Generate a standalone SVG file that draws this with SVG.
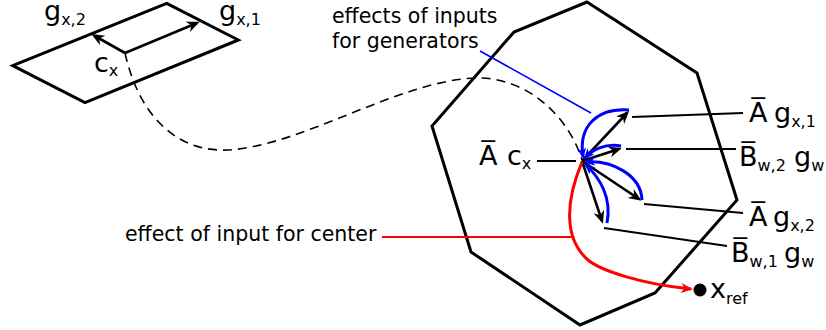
<svg xmlns="http://www.w3.org/2000/svg" width="826" height="330" viewBox="0 0 826 330">
<style>
.m{font-family:"DejaVu Sans","Liberation Sans",sans-serif;font-size:27px;fill:#000}
.s{font-size:16px}
.t{font-family:"DejaVu Sans","Liberation Sans",sans-serif;font-size:20.5px;fill:#000}
.shape{fill:none;stroke:#000;stroke-width:3;stroke-linejoin:miter}
.vec{fill:none;stroke:#000;stroke-width:2.6}
.gen{fill:none;stroke:#0000ff;stroke-width:3}
.lead{fill:none;stroke:#000;stroke-width:1.8}
</style>
<defs>
<marker id="ak" markerUnits="userSpaceOnUse" markerWidth="16" markerHeight="14" viewBox="-14 -7 16 14" refX="-3" refY="0" orient="auto">
<path d="M0,0 L-13,-5.5 L-9,0 L-13,5.5 Z" fill="#000"/>
</marker>
<marker id="ab" markerUnits="userSpaceOnUse" markerWidth="16" markerHeight="14" viewBox="-14 -7 16 14" refX="-2" refY="0" orient="auto">
<path d="M0,0 L-11,-4.5 L-8,0 L-11,4.5 Z" fill="#0000ff"/>
</marker>
<marker id="ar" markerUnits="userSpaceOnUse" markerWidth="16" markerHeight="14" viewBox="-14 -7 16 14" refX="-2" refY="0" orient="auto">
<path d="M0,0 L-12,-5 L-8.5,0 L-12,5 Z" fill="#ff0000"/>
</marker>
</defs>

<g id="parallelogram">
<polygon class="shape" points="166.7,3.3 238.3,40 85,102.7 12.7,65.7"/>
<text class="m" x="44" y="20">g<tspan class="s" dy="5">x,2</tspan></text>
<text class="m" x="219" y="20">g<tspan class="s" dy="5">x,1</tspan></text>
<text class="m" x="94" y="72">c<tspan class="s" dy="4">x</tspan></text>
</g>

<g id="octagon">
<polygon class="shape" points="587,2 697,73 737,200 655,293 580,325 471,252 432,126 514,32"/>
</g>

<g id="label-generators">
<text class="t" x="332" y="23">effects of inputs</text>
<text class="t" x="332" y="48">for generators</text>
</g>

<g id="label-center">
<text class="t" x="125" y="241">effect of input for center</text>
</g>

<g id="label-Acx">
<text class="m" x="479" y="165">A̅</text>
<text class="m" x="507" y="165">c<tspan class="s" dy="4">x</tspan></text>
</g>

<g id="label-Agx1">
<text class="m" x="749" y="122">A̅</text>
<text class="m" x="774" y="122">g<tspan class="s" dy="5">x,1</tspan></text>
</g>

<g id="label-Bw2">
<text class="m" x="739" y="166">B̅<tspan class="s" dy="5">w,2</tspan></text>
<text class="m" x="794" y="166">g<tspan class="s" dy="5">w</tspan></text>
</g>

<g id="label-Agx2">
<text class="m" x="749" y="226">A̅</text>
<text class="m" x="773" y="226">g<tspan class="s" dy="5">x,2</tspan></text>
</g>

<g id="label-Bw1">
<text class="m" x="731" y="262">B̅<tspan class="s" dy="5">w,1</tspan></text>
<text class="m" x="784" y="262">g<tspan class="s" dy="5">w</tspan></text>
</g>

<g id="xref">
<circle cx="700" cy="290" r="6.5" fill="#000"/>
<text class="m" x="710" y="298">x<tspan class="s" dy="6">ref</tspan></text>
</g>

<g id="connectors">
<line class="vec" x1="125" y1="53" x2="197" y2="23" marker-end="url(#ak)"/>
<line class="vec" x1="125" y1="53" x2="94" y2="35.5" marker-end="url(#ak)"/>
<path d="M125,53 C140,120 180,152 227,150 C300,147 400,80 476,78 C530,77 570,120 582,160" fill="none" stroke="#000" stroke-width="1.6" stroke-dasharray="9,6"/>

<line class="vec" x1="582" y1="161" x2="627" y2="113" marker-end="url(#ak)"/>
<line class="vec" x1="582" y1="161" x2="619" y2="149" marker-end="url(#ak)"/>
<line class="vec" x1="582" y1="161" x2="639" y2="199" marker-end="url(#ak)"/>
<line class="vec" x1="582" y1="161" x2="602" y2="221" marker-end="url(#ak)"/>

<path class="gen" d="M629,110 C598,108 578,125 583,157" marker-end="url(#ab)"/>
<path class="gen" d="M621,146 C605,143 592,150 585,158" marker-end="url(#ab)"/>
<path class="gen" d="M642,200 C641,175 612,160 586,162" marker-end="url(#ab)"/>
<path class="gen" d="M607,223 C612,198 600,178 586,165" marker-end="url(#ab)"/>

<path d="M582,162 C566,200 563,238 588,260 C600,270 640,284 691,289" fill="none" stroke="#ff0000" stroke-width="3" marker-end="url(#ar)"/>

<line class="lead" x1="632" y1="117" x2="743" y2="113"/>
<line class="lead" x1="626" y1="149" x2="736" y2="149"/>
<line class="lead" x1="644" y1="204" x2="743" y2="213"/>
<line class="lead" x1="604" y1="228" x2="727" y2="246"/>
<line class="lead" x1="537" y1="161" x2="576" y2="161"/>
<line x1="480" y1="51" x2="591" y2="113" stroke="#0000ff" stroke-width="1.6"/>
<line x1="382" y1="237" x2="573" y2="237" stroke="#ff0000" stroke-width="2"/>
</g>
</svg>
